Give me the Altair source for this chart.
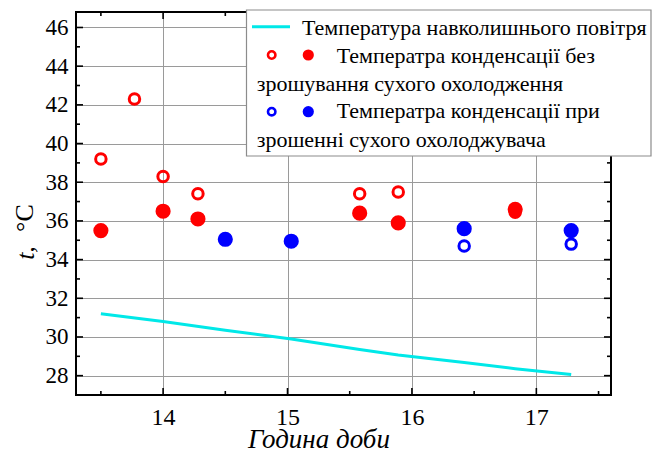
import altair as alt
import pandas as pd

# ---------------- data ----------------
air_x = [13.5, 14.0, 14.5, 15.03, 15.58, 15.89, 16.42, 16.83, 17.28]
air_y = [31.2, 30.8, 30.35, 29.9, 29.35, 29.07, 28.68, 28.36, 28.06]

red_open_x = [13.5, 13.77, 14.0, 14.28, 15.58, 15.89, 16.83]
red_open_y = [39.2, 42.3, 38.3, 37.4, 37.4, 37.5, 36.45]
red_fill_x = [13.5, 14.0, 14.28, 15.58, 15.89, 16.83]
red_fill_y = [35.5, 36.5, 36.1, 36.4, 35.9, 36.6]

blue_open_x = [14.5, 15.03, 16.42, 17.28]
blue_open_y = [35.05, 34.95, 34.7, 34.8]
blue_fill_x = [14.5, 15.03, 16.42, 17.28]
blue_fill_y = [35.05, 34.95, 35.6, 35.5]

x_major = [14, 15, 16, 17]
x_minor = [13.5, 14.5, 15.5, 16.5, 17.5]
y_major = [28, 30, 32, 34, 36, 38, 40, 42, 44, 46]
y_minor = [29, 31, 33, 35, 37, 39, 41, 43, 45]

legend_labels = [
    "Температура навколишнього повітря",
    "Температра конденсації без",
    "зрошування сухого охолодження",
    "Температра конденсації при",
    "зрошенні сухого охолоджувача",
]
x_title = "Година доби"
y_title_a = "t,"
y_title_b = "°C"

# ---------------- layout ----------------
W, H = 535, 383
FONT = "Liberation Serif"
RED, BLUE, CYAN = "#ff0000", "#0000ff", "#00e8e8"

xs = alt.Scale(domain=[13.3, 17.6], nice=False, zero=False)
ys = alt.Scale(domain=[27, 46.8], nice=False, zero=False)

air = pd.DataFrame({"x": air_x, "y": air_y})
ro = pd.DataFrame({"x": red_open_x, "y": red_open_y})
rf = pd.DataFrame({"x": red_fill_x, "y": red_fill_y})
bo = pd.DataFrame({"x": blue_open_x, "y": blue_open_y})
bf = pd.DataFrame({"x": blue_fill_x, "y": blue_fill_y})

xaxis = alt.Axis(values=x_major, format="d", grid=True, gridColor="#9a9a9a", gridWidth=1,
                 ticks=False, domain=False, labelFont=FONT, labelFontSize=24,
                 labelColor="black", labelPadding=10, title=None)
yaxis = alt.Axis(values=y_major, format="d", grid=True, gridColor="#9a9a9a", gridWidth=1,
                 ticks=False, domain=False, labelFont=FONT, labelFontSize=23,
                 labelColor="black", labelPadding=8, title=None)

line = alt.Chart(air).mark_line(color=CYAN, strokeWidth=3).encode(
    x=alt.X("x:Q", scale=xs, axis=xaxis),
    y=alt.Y("y:Q", scale=ys, axis=yaxis),
)

dummy = alt.Data(values=[{}])

frame = alt.Chart(dummy).mark_rect(filled=False, stroke="black", strokeWidth=2).encode(
    x=alt.value(0), x2=alt.value(W), y=alt.value(0), y2=alt.value(H))

def xticks(vals, p0, p1):
    return alt.Chart(pd.DataFrame({"v": vals})).mark_rule(color="black", strokeWidth=1.6).encode(
        x=alt.X("v:Q", scale=xs), y=alt.value(p0), y2=alt.value(p1))
def yticks(vals, p0, p1):
    return alt.Chart(pd.DataFrame({"v": vals})).mark_rule(color="black", strokeWidth=1.6).encode(
        y=alt.Y("v:Q", scale=ys), x=alt.value(p0), x2=alt.value(p1))

tick_layers = [xticks(x_major, H, H - 7), xticks(x_minor, H, H - 4),
               xticks(x_major, 0, 7), xticks(x_minor, 0, 4),
               yticks(y_major, 0, 7), yticks(y_minor, 0, 4),
               yticks(y_major, W, W - 7), yticks(y_minor, W, W - 4)]

def pts(df, color, filled):
    if filled:
        m = alt.Chart(df).mark_point(shape="circle", filled=True, color=color, opacity=1, size=230)
    else:
        m = alt.Chart(df).mark_point(shape="circle", filled=False, color=color, opacity=1,
                                     size=110, strokeWidth=3)
    return m.encode(x=alt.X("x:Q", scale=xs), y=alt.Y("y:Q", scale=ys))

points = [pts(ro, RED, False), pts(bo, BLUE, False), pts(rf, RED, True), pts(bf, BLUE, True)]

# ---------------- legend ----------------
leg = [alt.Chart(dummy).mark_rect(fill="white", stroke="#8c8c8c", strokeWidth=1.2).encode(
    x=alt.value(170.5), x2=alt.value(575), y=alt.value(-2), y2=alt.value(144))]
leg.append(alt.Chart(dummy).mark_rule(color=CYAN, strokeWidth=3).encode(
    x=alt.value(176), x2=alt.value(214), y=alt.value(14.7)))
for yy, col in [(43, RED), (99.7, BLUE)]:
    leg.append(alt.Chart(dummy).mark_point(shape="circle", filled=False, color=col, opacity=1,
                                           size=55, strokeWidth=2.6).encode(
        x=alt.value(195.7), y=alt.value(yy)))
    leg.append(alt.Chart(dummy).mark_point(shape="circle", filled=True, color=col, opacity=1,
                                           size=125).encode(
        x=alt.value(232.3), y=alt.value(yy)))
text_pos = [(226, 23), (260.7, 51.3), (180.7, 78.7), (260.7, 106.3), (180.7, 134.7)]
for lab, (tx, ty) in zip(legend_labels, text_pos):
    leg.append(alt.Chart(dummy).mark_text(font=FONT, fontSize=22, align="left",
                                          baseline="alphabetic", color="black").encode(
        x=alt.value(tx), y=alt.value(ty), text=alt.value(lab)))

# ---------------- titles ----------------
titles = [
    alt.Chart(dummy).mark_text(font=FONT, fontSize=27, fontStyle="italic", align="center",
                               baseline="alphabetic", color="black").encode(
        x=alt.value(243), y=alt.value(436), text=alt.value(x_title)),
    alt.Chart(dummy).mark_text(font=FONT, fontSize=26, fontStyle="italic", align="center",
                               baseline="alphabetic", angle=270, color="black").encode(
        x=alt.value(-42), y=alt.value(241), text=alt.value(y_title_a)),
    alt.Chart(dummy).mark_text(font=FONT, fontSize=26, align="center",
                               baseline="alphabetic", angle=270, color="black").encode(
        x=alt.value(-43), y=alt.value(206), text=alt.value(y_title_b)),
]

chart = alt.layer(line, *points, frame, *tick_layers, *leg, *titles).properties(
    width=W, height=H,
    autosize=alt.AutoSizeParams(type="none"),
    padding={"left": 68, "top": 4, "right": 41, "bottom": 58},
).configure_view(strokeWidth=0).configure(background="white")

chart.save("out.html", embed_options={"renderer": "svg", "actions": False})
